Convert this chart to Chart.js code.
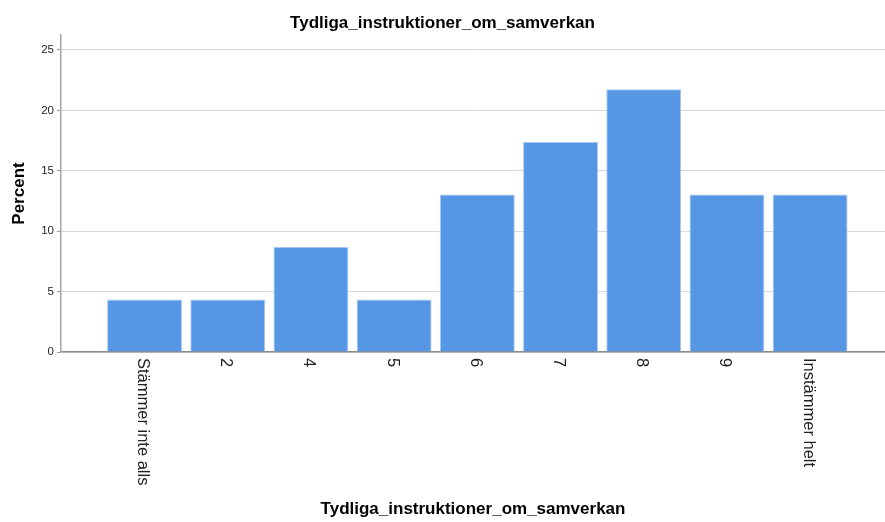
<!DOCTYPE html>
<html>
<head>
<meta charset="utf-8">
<script src="https://cdn.jsdelivr.net/npm/chart.js@4/dist/chart.umd.min.js"></script>
<style>
  html, body { margin: 0; padding: 0; background: #fff; }
  #wrap { width: 885px; height: 522px; }
</style>
</head>
<body>
<div id="wrap"><canvas id="c" width="885" height="522"></canvas></div>
<script>
const chartTitle = 'Tydliga_instruktioner_om_samverkan';
const xTitle = 'Tydliga_instruktioner_om_samverkan';
const yTitle = 'Percent';
const categories = ['Stämmer inte alls', '2', '4', '5', '6', '7', '8', '9', 'Instämmer helt'];
const percentValues = [4.35, 4.35, 8.70, 4.35, 13.04, 17.39, 21.74, 13.04, 13.04];
const yTicks = [0, 5, 10, 15, 20, 25];

const FONT = '"Liberation Sans", Arial, sans-serif';

const xLabelPlugin = {
  id: 'xLabels',
  afterDraw(chart) {
    const xs = chart.scales.x;
    const ctx = chart.ctx;
    ctx.save();
    ctx.fillStyle = '#222';
    ctx.font = '16.5px ' + FONT;
    ctx.textAlign = 'left';
    ctx.textBaseline = 'middle';
    categories.forEach((lab, i) => {
      const px = xs.getPixelForValue(i);
      ctx.save();
      ctx.translate(px - 2, chart.chartArea.bottom + 6);
      ctx.rotate(Math.PI / 2);
      ctx.fillText(lab, 0, 0);
      ctx.restore();
    });
    ctx.restore();
  }
};

new Chart(document.getElementById('c'), {
  type: 'bar',
  data: {
    datasets: [{
      data: percentValues.map((v, i) => ({ x: i, y: v })),
      backgroundColor: '#5596e5',
      borderColor: '#a4c6f1',
      borderWidth: 1,
      barPercentage: 0.9,
      categoryPercentage: 1.0
    }]
  },
  options: {
    responsive: false,
    animation: false,
    layout: { padding: 0 },
    plugins: {
      legend: { display: false },
      tooltip: { enabled: false },
      title: {
        display: true,
        text: chartTitle,
        color: '#000',
        font: { family: FONT, size: 17, weight: 'bold' },
        padding: { top: 13, bottom: 1.6 }
      }
    },
    scales: {
      x: {
        type: 'linear',
        min: -1.004,
        max: 8.90,
        offset: false,
        grid: { display: false, offset: false },
        border: { display: true, color: '#8c8c8c', width: 1.5 },
        ticks: { display: false },
        afterBuildTicks(scale) { scale.ticks = categories.map((_, i) => ({ value: i })); },
        afterFit(scale) { scale.height = 170; },
        title: {
          display: true,
          text: xTitle,
          color: '#000',
          font: { family: FONT, size: 17, weight: 'bold' },
          padding: { top: 0, bottom: 2 }
        }
      },
      y: {
        min: 0,
        max: 26.24,
        afterBuildTicks(scale) { scale.ticks = yTicks.map(v => ({ value: v })); },
        afterFit(scale) { scale.width = 61; },
        grid: { color: '#d9d9d9', lineWidth: 1, tickLength: 4, tickColor: '#9a9a9a' },
        border: { display: true, color: '#a6a6a6', width: 1.5 },
        ticks: {
          color: '#222',
          padding: 3,
          font: { family: FONT, size: 11.5 }
        },
        title: {
          display: true,
          text: yTitle,
          color: '#000',
          font: { family: FONT, size: 17, weight: 'bold' },
          padding: { top: 9, bottom: 0 }
        }
      }
    }
  },
  plugins: [xLabelPlugin]
});
</script>
</body>
</html>
